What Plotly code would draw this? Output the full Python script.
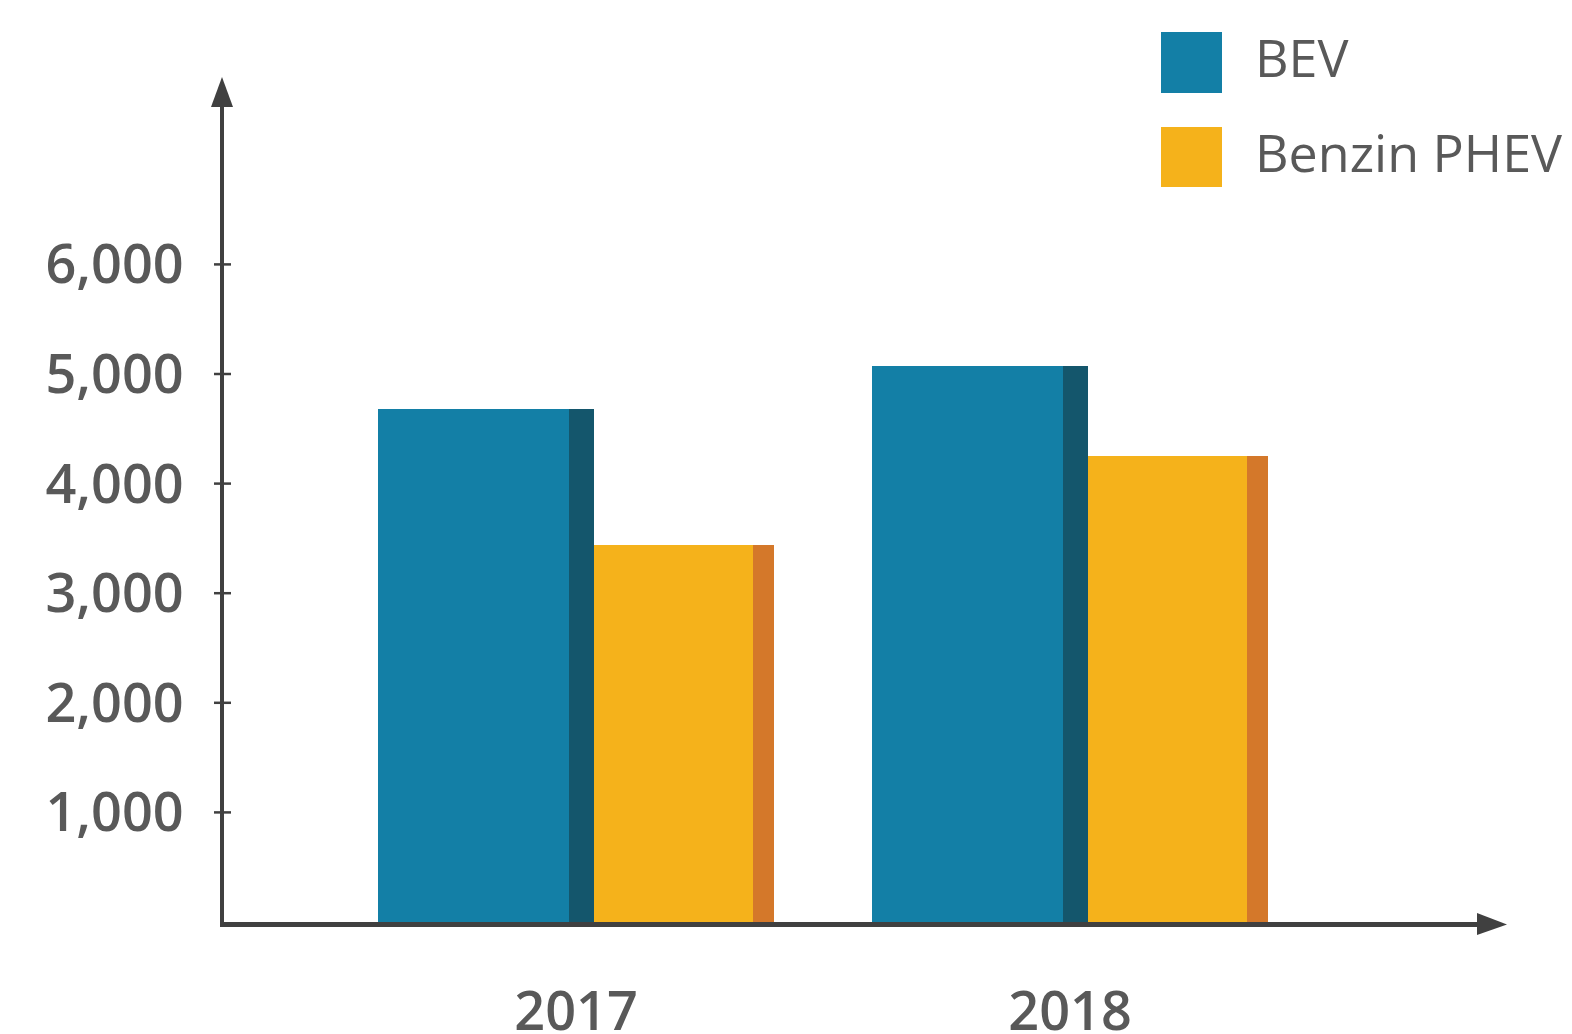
import plotly.graph_objects as go

# ---- data ----
years = ["2017", "2018"]
bev = [4680, 5070]
phev = [3440, 4250]
series_names = ["BEV", "Benzin PHEV"]
y_ticks = [1000, 2000, 3000, 4000, 5000, 6000]
y_ticktext = ["1,000", "2,000", "3,000", "4,000", "5,000", "6,000"]

# ---- layout geometry (pixels) ----
W, H = 1572, 1034
L, R, T, B = 224, 1485, 100, 922       # plot area edges
PX_PER_CAT = 494.0
CAT0_PX = 576.0
PX_PER_1000 = 109.6

x_range = [(L - CAT0_PX) / PX_PER_CAT, (R - CAT0_PX) / PX_PER_CAT]
y_range = [0, (B - T) / PX_PER_1000 * 1000]
pw, ph = R - L, B - T


def px(xp):
    return (xp - L) / pw


def py(yp):
    return (B - yp) / ph


C_BEV = "#137fa6"
C_BEV_D = "#14566c"
C_PHEV = "#f5b21b"
C_PHEV_D = "#d4782a"
AX = "#404040"
TXT = "#595959"

xs = list(range(len(years)))

fig = go.Figure()
# (offset_px, width_px, values, colour)
parts = [
    (-198, 191, bev, C_BEV),
    (-7, 25, bev, C_BEV_D),
    (18, 159, phev, C_PHEV),
    (177, 21, phev, C_PHEV_D),
]
for off, wid, vals, col in parts:
    fig.add_trace(go.Bar(
        x=xs, y=vals,
        offset=off / PX_PER_CAT, width=wid / PX_PER_CAT,
        marker=dict(color=col, line=dict(width=0)),
        showlegend=False, hoverinfo="skip",
    ))

shapes = []
# tick marks crossing the y axis
for v in y_ticks:
    shapes.append(dict(type="line", xref="paper", yref="y",
                       x0=px(214), x1=px(231), y0=v, y1=v,
                       line=dict(color=AX, width=2.5)))
# arrowheads
shapes.append(dict(type="path", xref="paper", yref="paper",
                   path=f"M {px(211)},{py(107)} L {px(222)},{py(77)} L {px(233)},{py(107)} Z",
                   fillcolor=AX, line=dict(width=0)))
shapes.append(dict(type="path", xref="paper", yref="paper",
                   path=f"M {px(1477)},{py(913)} L {px(1507)},{py(924.5)} L {px(1477)},{py(935)} Z",
                   fillcolor=AX, line=dict(width=0)))
# legend swatches
for (y0, y1), col in zip([(32, 93), (127, 187)], [C_BEV, C_PHEV]):
    shapes.append(dict(type="rect", xref="paper", yref="paper",
                       x0=px(1161), x1=px(1222), y0=py(y1), y1=py(y0),
                       fillcolor=col, line=dict(width=0)))

annotations = []
for name, yc in zip(series_names, [56, 151]):
    annotations.append(dict(xref="paper", yref="paper", x=px(1253), y=py(yc),
                            text=name, showarrow=False, xanchor="left", yanchor="middle",
                            font=dict(family="Open Sans", size=52, color=TXT, weight=400)))

fig.update_layout(
    width=W, height=H,
    margin=dict(l=L, r=W - R, t=T, b=H - B, pad=0, autoexpand=False),
    paper_bgcolor="white", plot_bgcolor="white",
    barmode="overlay", bargap=0,
    showlegend=False,
    shapes=shapes, annotations=annotations,
    xaxis=dict(range=x_range, tickvals=xs, ticktext=years, ticks="",
               automargin=False,
               showgrid=False, zeroline=False, showline=True, linecolor=AX, linewidth=4.5,
               ticklabelstandoff=39,
               tickfont=dict(family="Open Sans", size=54, color=TXT, weight=600)),
    yaxis=dict(range=y_range, tickvals=y_ticks, ticktext=y_ticktext, ticks="",
               automargin=False,
               showgrid=False, zeroline=False, showline=True, linecolor=AX, linewidth=4.5,
               ticklabelstandoff=25,
               tickfont=dict(family="Open Sans", size=54, color=TXT, weight=600)),
)

fig.write_html("out.html", config={"displayModeBar": False, "staticPlot": True},
               post_script="document.body.style.margin='0px';document.body.style.overflow='hidden';")
